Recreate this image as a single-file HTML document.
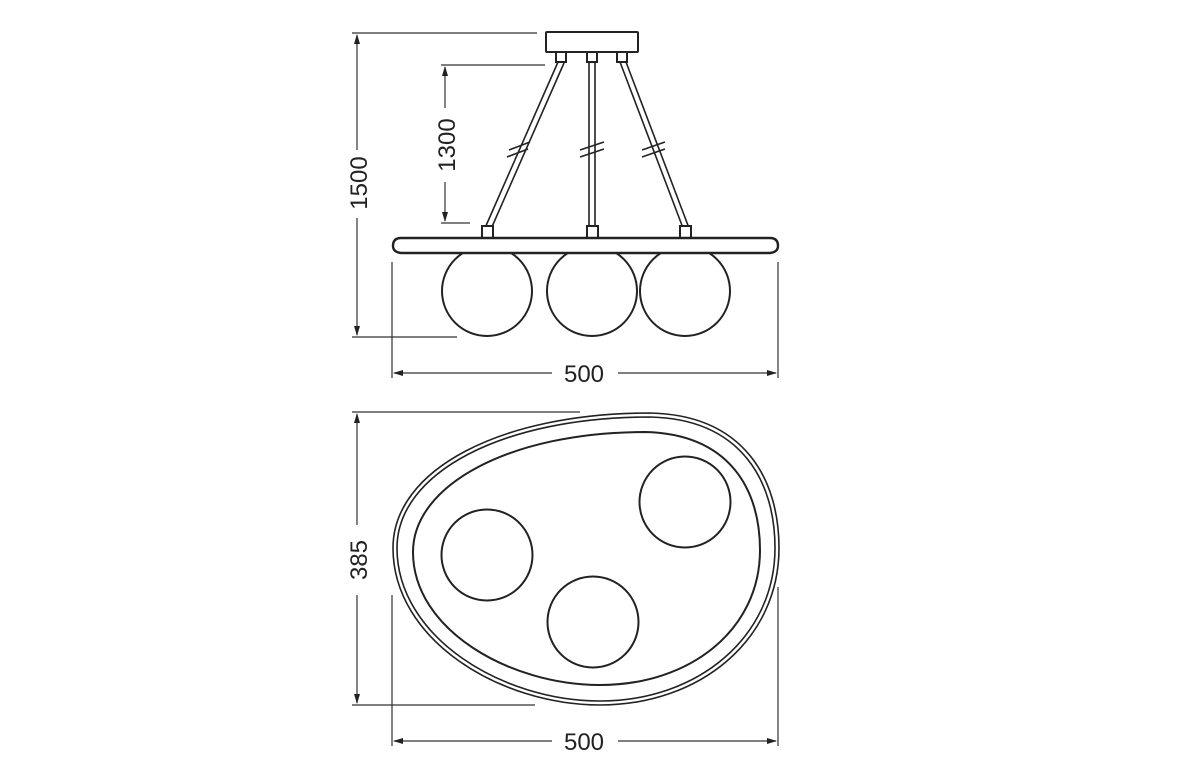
<!DOCTYPE html>
<html><head><meta charset="utf-8"><style>
html,body{margin:0;padding:0;background:#fff;}
svg{display:block}
text{font-family:"Liberation Sans",sans-serif;font-size:24px;fill:#222}
</style></head><body>
<svg width="1200" height="769" viewBox="0 0 1200 769" xmlns="http://www.w3.org/2000/svg">
<defs>
<marker id="a" markerWidth="10" markerHeight="8" refX="9" refY="4" orient="auto" markerUnits="userSpaceOnUse"><path d="M0,1 L10,4 L0,7 Z" fill="#222"/></marker>
</defs>
<g stroke="#333" stroke-width="1.2" fill="none">
<line x1="352" y1="33" x2="537" y2="33"/>
<line x1="352" y1="337" x2="457" y2="337"/>
<line x1="357" y1="150" x2="357" y2="35" marker-end="url(#a)"/>
<line x1="357" y1="218" x2="357" y2="335" marker-end="url(#a)"/>
<line x1="441" y1="65" x2="545" y2="65"/>
<line x1="441" y1="223" x2="470" y2="223"/>
<line x1="445" y1="108" x2="445" y2="67" marker-end="url(#a)"/>
<line x1="445" y1="182" x2="445" y2="221" marker-end="url(#a)"/>
<line x1="392" y1="262" x2="392" y2="378"/>
<line x1="778" y1="262" x2="778" y2="378"/>
<line x1="552" y1="373" x2="394" y2="373" marker-end="url(#a)"/>
<line x1="618" y1="373" x2="776" y2="373" marker-end="url(#a)"/>
<line x1="352" y1="412" x2="580" y2="412"/>
<line x1="352" y1="705" x2="535" y2="705"/>
<line x1="357" y1="525" x2="357" y2="414" marker-end="url(#a)"/>
<line x1="357" y1="595" x2="357" y2="703" marker-end="url(#a)"/>
<line x1="392" y1="595" x2="392" y2="746"/>
<line x1="778" y1="587" x2="778" y2="746"/>
<line x1="552" y1="741" x2="394" y2="741" marker-end="url(#a)"/>
<line x1="618" y1="741" x2="776" y2="741" marker-end="url(#a)"/>
</g>
<text x="584" y="382" text-anchor="middle">500</text>
<text x="584" y="750" text-anchor="middle">500</text>
<text transform="translate(367,183) rotate(-90)" text-anchor="middle">1500</text>
<text transform="translate(455,145) rotate(-90)" text-anchor="middle">1300</text>
<text transform="translate(367,560) rotate(-90)" text-anchor="middle">385</text>

<g stroke="#222" stroke-width="2" fill="#fff">
<rect x="546" y="32" width="92" height="20" rx="1"/>
<rect x="556" y="52" width="10" height="10"/>
<rect x="587" y="52" width="10" height="10"/>
<rect x="617" y="52" width="10" height="10"/>
<path d="M558,62 L485,228 M564,63 L491,229" stroke-width="1.6"/>
<path d="M589,62 L589,228 M595,62 L595,228" stroke-width="1.6"/>
<path d="M620,62 L683,228 M626,62 L689,228" stroke-width="1.6"/>
<path d="M509,150 L530,142 M507,157 L528,149" stroke-width="1.6"/>
<path d="M580,150 L604,142 M580,157 L604,149" stroke-width="1.6"/>
<path d="M642,150 L665,142 M642,157 L665,149" stroke-width="1.6"/>
<rect x="482" y="226" width="11" height="12"/>
<rect x="587" y="226" width="11" height="12"/>
<rect x="680" y="226" width="11" height="12"/>
<circle cx="487" cy="291" r="45"/>
<circle cx="592" cy="291" r="45"/>
<circle cx="685" cy="291" r="45"/>
<path d="M401,238 L770,238 Q778,238 778,246 Q778,252 770,253 L401,253 Q393,252 393,246 Q393,238 401,238 Z" stroke-width="2.4"/>
</g>

<g stroke="#222" stroke-width="1.6" fill="none">
<path d="M650,413 C745,415 779,480 779,548 C779,640 700,705 600,705 C500,705 393,640 393,548 C393,470 500,413 650,413 Z"/>
<path d="M650,417 C742,419 775,482 775,548 C775,637 698,701 600,701 C502,701 397,637 397,548 C397,473 502,417 650,417 Z"/>
<path d="M645,432 C730,434 760,490 760,550 C760,630 690,685 600,685 C510,685 413,630 413,552 C413,485 510,432 645,432 Z" stroke-width="2"/>
<circle cx="487" cy="555" r="45.5" stroke-width="2"/>
<circle cx="685" cy="502" r="45.5" stroke-width="2"/>
<circle cx="593" cy="622" r="45.5" stroke-width="2"/>
</g>
</svg>
</body></html>
